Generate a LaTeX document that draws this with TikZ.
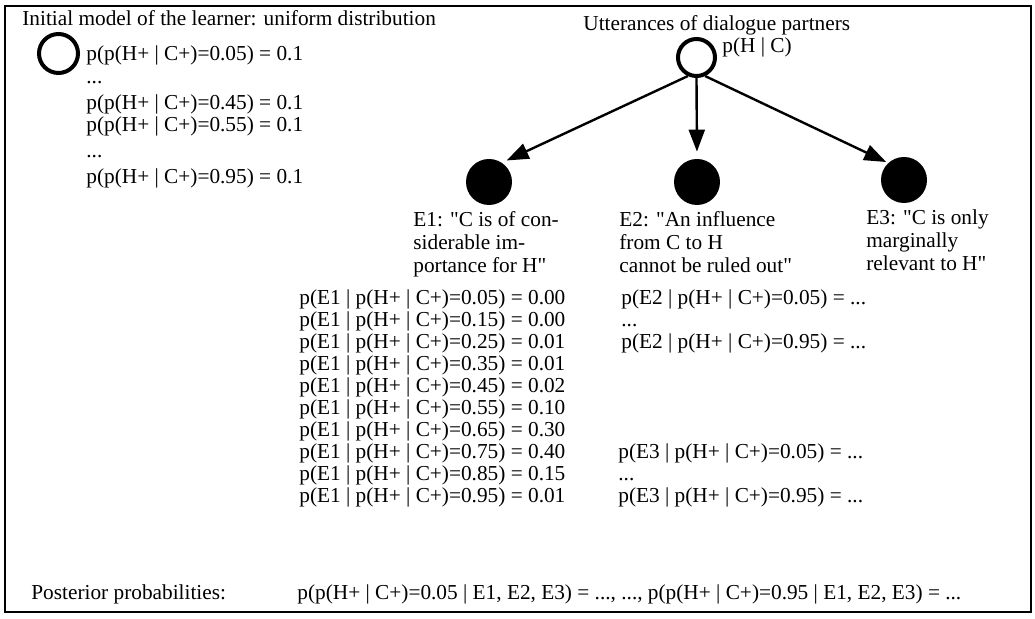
\documentclass[tikz,border=0pt]{standalone}
\usepackage{fontspec}
\setmainfont{Liberation Serif}[Ligatures=TeXOff]
\usetikzlibrary{arrows.meta}
\begin{document}
\begin{tikzpicture}[x=0.5pt,y=-0.5pt,
  txt/.style={anchor=base west, inner sep=0pt, font=\fontsize{10.65}{11}\selectfont},
  opennode/.style={circle, draw, line width=2pt, inner sep=0pt},
  evnode/.style={circle, fill=black, inner sep=0pt, minimum size=23pt},
  link/.style={line width=1.2pt, -{Triangle[length=11pt,width=8pt]}}]
\useasboundingbox (0,0) rectangle (1035,619);
\draw[line width=1.25pt] (5,6) rectangle (1031,612);
% left: initial model
\node[txt] (title) at (22,26) {Initial model of the learner: uniform distribution};
\node[opennode, minimum size=19.5pt] (init) at (58.5,53.5) {};
\node[txt] (l1) at (86,61) {p(p(H+ | C+)=0.05) = 0.1};
\node[txt] (l2) at (86,84) {...};
\node[txt] (l3) at (86,110) {p(p(H+ | C+)=0.45) = 0.1};
\node[txt] (l4) at (86,132) {p(p(H+ | C+)=0.55) = 0.1};
\node[txt] (l5) at (86,158) {...};
\node[txt] (l6) at (86,184) {p(p(H+ | C+)=0.95) = 0.1};
% utterances
\node[txt] (utt) at (583,31) {Utterances of dialogue partners};
\node[opennode, minimum size=18.5pt] (u) at (696.5,57.5) {};
\node[txt] (phc) at (722,53) {p(H | C)};
\node[evnode] (e1) at (489,182) {};
\node[evnode] (e2) at (697,182) {};
\node[evnode] (e3) at (904,180) {};
\draw[link, shorten >=2.5pt] (u.245) -- (e1.56);
\draw[link, shorten >=3.5pt] (u.south) -- (e2.north);
\draw[link, shorten >=1pt] (u.295) -- (e3.133);
% labels
\node[txt] (e1a) at (413,227) {E1: "C is of con-};
\node[txt] (e1b) at (413,250) {siderable im-};
\node[txt] (e1c) at (413,273) {portance for H"};
\node[txt] (e2a) at (619,227) {E2: "An influence};
\node[txt] (e2b) at (619,250) {from C to H};
\node[txt] (e2c) at (619,273) {cannot be ruled out"};
\node[txt] (e3a) at (866,225) {E3: "C is only};
\node[txt] (e3b) at (866,248) {marginally};
\node[txt] (e3c) at (866,271) {relevant to H"};
% likelihoods
\foreach \v/\r [count=\i] in {0.05/0.00,0.15/0.00,0.25/0.01,0.35/0.01,0.45/0.02,0.55/0.10,0.65/0.30,0.75/0.40,0.85/0.15,0.95/0.01}
  \node[txt] (pe1-\i) at (299,{305+(\i-1)*22}) {p(E1 | p(H+ | C+)=\v) = \r};
\node[txt] (pe2-1) at (621,305) {p(E2 | p(H+ | C+)=0.05) = ...};
\node[txt] (pe2-2) at (621,327) {...};
\node[txt] (pe2-3) at (621,349) {p(E2 | p(H+ | C+)=0.95) = ...};
\node[txt] (pe3-1) at (618,459) {p(E3 | p(H+ | C+)=0.05) = ...};
\node[txt] (pe3-2) at (618,481) {...};
\node[txt] (pe3-3) at (618,503) {p(E3 | p(H+ | C+)=0.95) = ...};
% posterior
\node[txt] (post) at (31,600) {Posterior probabilities:};
\node[txt] (postv) at (297,600) {p(p(H+ | C+)=0.05 | E1, E2, E3) = ..., ..., p(p(H+ | C+)=0.95 | E1, E2, E3) = ...};
\end{tikzpicture}
\end{document}
